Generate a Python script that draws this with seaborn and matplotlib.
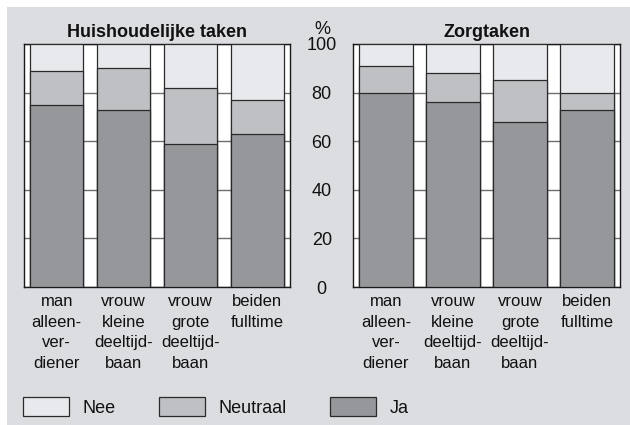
import matplotlib
matplotlib.use("Agg")
import matplotlib.pyplot as plt
from matplotlib.patches import Patch, Rectangle
import seaborn as sns

# categories (x tick labels)
categories = ["man\nalleen-\nver-\ndiener",
              "vrouw\nkleine\ndeeltijd-\nbaan",
              "vrouw\ngrote\ndeeltijd-\nbaan",
              "beiden\nfulltime"]

# Huishoudelijke taken (%)
huis_ja = [75, 73, 59, 63]
huis_neutraal = [14, 17, 23, 14]
huis_nee = [11, 10, 18, 23]

# Zorgtaken (%)
zorg_ja = [80, 76, 68, 73]
zorg_neutraal = [11, 12, 17, 7]
zorg_nee = [9, 12, 15, 20]

y_ticks = [0, 20, 40, 60, 80, 100]
legend_labels = ["Nee", "Neutraal", "Ja"]

col_nee = "#e8e9ec"
col_neu = "#bfc0c4"
col_ja = "#95979b"
bg = "#dcdde0"

sns.set_theme(style="white")
plt.rcParams["font.family"] = ["Liberation Sans", "DejaVu Sans"]
plt.rcParams["text.color"] = "#111111"
plt.rcParams["xtick.color"] = "#111111"
plt.rcParams["ytick.color"] = "#111111"

fig = plt.figure(figsize=(6.3, 4.25), dpi=100)
fig.patch.set_facecolor("white")
# grey panel behind everything
fig.patches.append(Rectangle((7 / 630, 0), 1, 418 / 425, transform=fig.transFigure,
                             facecolor=bg, edgecolor="none", zorder=-10))

ax1 = fig.add_axes([24 / 630, 138 / 425, 266 / 630, 243 / 425])
ax2 = fig.add_axes([353 / 630, 138 / 425, 267 / 630, 243 / 425])


def draw_panel(ax, ja, neu, nee, title):
    tot_all = [a + b + c for a, b, c in zip(ja, neu, nee)]
    tot_jn = [a + b for a, b in zip(ja, neu)]
    # draw back to front so the layers stack
    for vals, col in [(tot_all, col_nee), (tot_jn, col_neu), (ja, col_ja)]:
        sns.barplot(x=categories, y=vals, color=col, saturation=1, width=0.8,
                    edgecolor="#2a2a2a", linewidth=0.9, ax=ax, zorder=3)
    ax.set_facecolor("white")
    ax.set_xlim(-0.49, 3.49)
    ax.set_ylim(0, 100)
    ax.set_yticks(y_ticks)
    ax.yaxis.grid(True, color="#6e6e6e", linewidth=1.0)
    ax.set_axisbelow(True)
    for s in ax.spines.values():
        s.set_color("#1a1a1a")
        s.set_linewidth(1.0)
    ax.tick_params(axis="both", length=0)
    ax.tick_params(axis="x", pad=5, labelsize=12)
    for lab in ax.get_xticklabels():
        lab.set_linespacing(1.48)
        lab.set_verticalalignment("top")
    ax.set_xlabel("")
    ax.set_ylabel("")
    ax.set_title(title, fontsize=13, fontweight="bold", pad=5)


draw_panel(ax1, huis_ja, huis_neutraal, huis_nee, "Huishoudelijke taken")
draw_panel(ax2, zorg_ja, zorg_neutraal, zorg_nee, "Zorgtaken")

ax1.set_yticklabels([])
ax2.set_yticklabels([str(t) for t in y_ticks])
ax2.tick_params(axis="y", labelsize=13, pad=22.5)
for lab in ax2.get_yticklabels():
    lab.set_horizontalalignment("center")

fig.text(322 / 630, (425 - 29) / 425, "%", ha="center", va="center", fontsize=13)

handles = [Patch(facecolor=c, edgecolor="#2a2a2a", linewidth=0.9)
           for c in [col_nee, col_neu, col_ja]]
fig.legend(handles, legend_labels, loc="center left", bbox_to_anchor=(23 / 630, 18 / 425),
           ncol=3, frameon=False, fontsize=13, handlelength=2.55, handleheight=1.22,
           handletextpad=0.75, columnspacing=2.4, borderpad=0, borderaxespad=0)

fig.savefig("out.png", dpi=100, facecolor=fig.get_facecolor())
